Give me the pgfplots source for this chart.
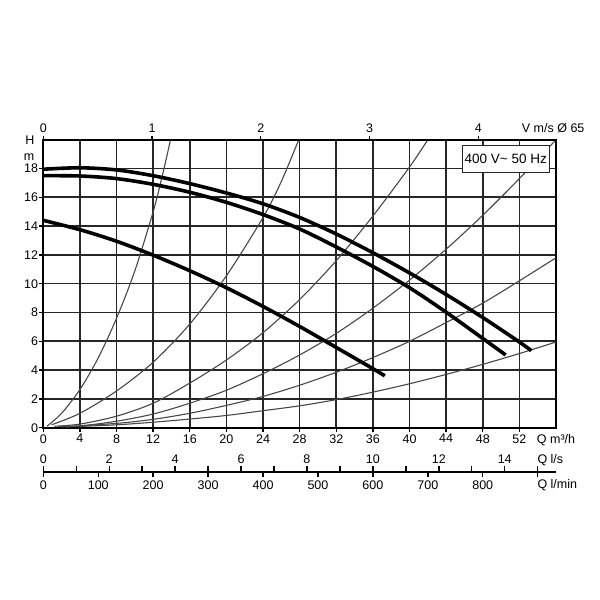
\documentclass[border=0pt]{standalone}
\usepackage{fontspec}
\setmainfont{Liberation Sans}
\usepackage{pgfplots}
\pgfplotsset{compat=1.18}

\pgfplotsset{
  every tick label/.append style={font=\fontsize{12.5}{14}\selectfont, text=black},
  /pgf/number format/assume math mode=true,
  syscurve/.style={black!72, line width=1.1pt, smooth},
  pumpcurve/.style={black, line width=3.6pt, smooth},
}

\begin{document}
\begin{tikzpicture}
\path[use as bounding box] (0,0) rectangle (600pt,600pt);

% H over Q, main grid
\begin{axis}[
  at={(43.3pt,172.3pt)}, anchor=south west,
  width=512.7pt, height=288pt, scale only axis,
  xmin=0, xmax=56, ymin=0, ymax=20,
  xtick={0,4,...,52}, ytick={0,2,...,18},
  grid=major,
  major grid style={black!85, line width=1.6pt},
  axis line style={black, line width=1.8pt},
  xtick pos=bottom, ytick pos=left, tick align=outside,
  major tick length=4pt,
  tick style={black, line width=1.4pt},
  xticklabel style={inner ysep=2.5pt},
  yticklabel style={inner xsep=1pt},
]
% system curves
\addplot[syscurve] coordinates {(0.4,0.1) (2,1.0) (4,2.65) (6,4.85) (8,7.6) (10,10.9) (12,15.0) (13,17.5) (13.9,20)};
\addplot[syscurve] coordinates {(0.9,0.2) (4,1.0) (8,2.55) (12,4.55) (16,7.2) (20,10.55) (24,14.6) (26,17.1) (27.9,20)};
\addplot[syscurve] coordinates {(1.2,0.1) (4,0.25) (8,0.8) (12,1.7) (16,3.1) (20,4.7) (24,6.6) (28,8.9) (32,11.6) (36,14.7) (40,18.1) (42,20)};
\addplot[syscurve] coordinates {(1.6,0.08) (4,0.12) (8,0.45) (12,0.95) (16,1.7) (20,2.6) (24,3.75) (28,5.05) (32,6.55) (36,8.3) (40,10.25) (44,12.4) (48,14.75) (52,17.3) (56,20)};
\addplot[syscurve] coordinates {(2,0.06) (8,0.3) (12,0.58) (16,1.0) (20,1.55) (24,2.17) (28,2.95) (32,3.85) (36,4.87) (40,6.0) (44,7.3) (48,8.65) (52,10.2) (56,11.8)};
\addplot[syscurve] coordinates {(2.5,0.05) (8,0.2) (12,0.38) (16,0.6) (20,0.85) (24,1.18) (28,1.52) (32,1.95) (36,2.47) (40,3.05) (44,3.7) (48,4.4) (52,5.15) (56,5.95)};
% pump curves
\addplot[pumpcurve] coordinates {(0,17.95) (4,18.05) (8,17.9) (12,17.5) (16,16.95) (20,16.3) (24,15.55) (28,14.6) (32,13.45) (36,12.15) (40,10.75) (44,9.25) (48,7.65) (52,5.95) (53.3,5.35)};
\addplot[pumpcurve] coordinates {(0,17.5) (4,17.48) (8,17.3) (12,16.9) (16,16.35) (20,15.65) (24,14.8) (28,13.8) (32,12.55) (36,11.2) (40,9.72) (44,8.02) (48,6.2) (50.5,5.05)};
\addplot[pumpcurve] coordinates {(0,14.4) (4,13.75) (8,12.95) (12,11.98) (16,10.9) (20,9.72) (24,8.42) (28,7.03) (32,5.57) (36,4.1) (37.3,3.6)};
\end{axis}

% velocity scale on top
\begin{axis}[
  at={(43.3pt,172.3pt)}, anchor=south west,
  width=512.7pt, height=288pt, scale only axis,
  xmin=0, xmax=4.715, ymin=0, ymax=1,
  axis x line*=top, hide y axis,
  xtick={0,...,4}, tick align=outside, major tick length=3.5pt,
  tick style={black, line width=1.4pt},
  axis line style={black, line width=1.8pt},
]
\addplot[draw=none] coordinates {(0,0)};
\end{axis}

% Q in l/s
\begin{axis}[
  at={(43.3pt,118.3pt)}, anchor=south west,
  width=512.7pt, height=10pt, scale only axis,
  xmin=0, xmax=15.556, ymin=0, ymax=1,
  axis x line*=top, hide y axis,
  xtick={0,2,...,14}, minor xtick={1,3,...,15},
  tick align=outside, major tick length=5.7pt, minor tick length=5.7pt,
  tick style={black, line width=1.4pt},
  axis line style={black, line width=1.6pt},
  xticklabel style={inner ysep=2.5pt},
]
\addplot[draw=none] coordinates {(0,0)};
\end{axis}

% Q in l/min
\begin{axis}[
  at={(43.3pt,128.3pt)}, anchor=south west,
  width=512.7pt, height=10pt, scale only axis,
  xmin=0, xmax=933.33, ymin=0, ymax=1,
  axis x line*=bottom, hide y axis,
  xtick={0,100,...,800}, extra x ticks={900}, extra x tick labels={},
  scaled x ticks=false,
  tick align=outside, major tick length=5.7pt,
  tick style={black, line width=1.4pt},
  axis line style={black, line width=1.6pt},
  xticklabel style={inner ysep=3pt},
]
\addplot[draw=none] coordinates {(0,1)};
\end{axis}

\begin{scope}[every node/.style={inner sep=0pt, font=\fontsize{12.5}{14}\selectfont}]
\node[anchor=base west] at (521.7pt,467.7pt) {V m/s Ø 65};
\node[anchor=base west] at (536.7pt,156.7pt) {Q m³/h};
\node[anchor=base west] at (537.3pt,136pt) {Q l/s};
\node[anchor=base west] at (537.3pt,111.4pt) {Q l/min};
\node at (30pt,460pt) {H};
\node at (29pt,443.3pt) {m};
\end{scope}
\node[draw=black!85, line width=1.2pt, fill=white, anchor=north east,
  minimum width=87.3pt, minimum height=27.3pt, inner sep=0pt,
  font=\fontsize{13.5}{15}\selectfont] at (550pt,455pt) {400 V\textasciitilde{} 50 Hz};
\end{tikzpicture}
\end{document}
